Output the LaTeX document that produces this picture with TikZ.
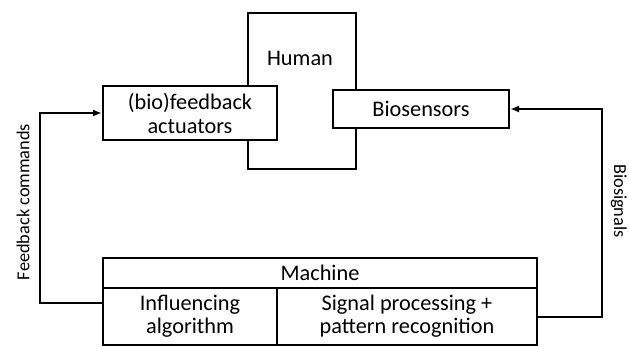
\documentclass[tikz,border=0pt]{standalone}
\usepackage{fontspec}
\setmainfont{Carlito}
\usetikzlibrary{arrows.meta,positioning}
\tikzset{
  >={Latex[length=9pt,width=7pt]},
}
\tikzstyle{block}=[draw,line width=2pt,fill=white,inner sep=0pt,align=center]
\tikzstyle{conn}=[line width=2pt,->]
\tikzstyle{sidelbl}=[font=\fontsize{18.3}{21}\selectfont,inner sep=0pt]
\tikzstyle{every node}=[font=\fontsize{22.3}{25}\selectfont]

\begin{document}
\begin{tikzpicture}[x=1pt,y=-1pt]
    \useasboundingbox (0,0) rectangle (629,347);
    % human and its interfaces
    \node[block,minimum width=108,minimum height=156] (human) at (301.5,91) {};
    \node (humanlbl) at (300,58) {Human};
    \node[block,minimum width=174,minimum height=54] (fb) at (190,113) {(bio)feedback\\[-1pt]actuators};
    \node[block,minimum width=176,minimum height=38] (bios) at (421,109) {Biosensors};
    % machine
    \node[block,minimum width=434,minimum height=30] (machine) at (320,273) {Machine};
    \node[block,minimum width=174,minimum height=57] (infl) at (190,316.5) {Influencing\\[-2pt]algorithm};
    \node[block,minimum width=260,minimum height=57] (sig) at (407,316.5) {Signal processing +\\[-2pt]pattern recognition};
    % loops
    \draw[conn] (infl.west |- 0,303) -- (40,303) |- (fb.west);
    \draw[conn] (sig.east) -- (602,316.5) |- (bios.east);
    \node[sidelbl,rotate=90] (fbcmd) at (23,202) {Feedback commands};
    \node[sidelbl,rotate=-90] (biosig) at (619,201) {Biosignals};
\end{tikzpicture}
\end{document}
